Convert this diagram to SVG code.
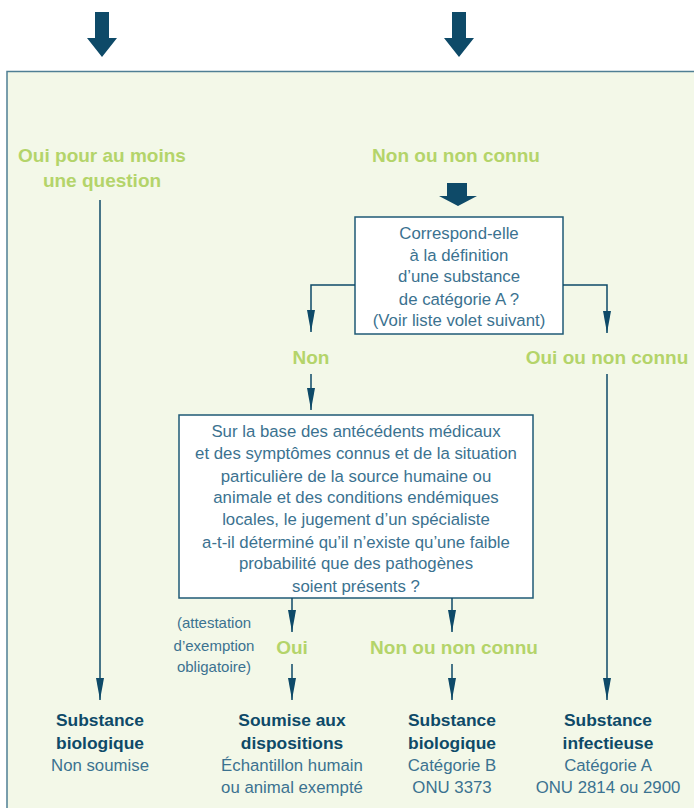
<svg xmlns="http://www.w3.org/2000/svg" width="694" height="808" viewBox="0 0 694 808">
<defs>
<style>
.q{font-family:"Liberation Sans",Arial,sans-serif;font-size:16.8px;fill:#3b7290;text-anchor:middle}
.g{font-family:"Liberation Sans",Arial,sans-serif;font-size:19px;font-weight:bold;fill:#b4d46a;text-anchor:middle}
.b{font-family:"Liberation Sans",Arial,sans-serif;font-size:17.4px;font-weight:bold;fill:#0e4a68;text-anchor:middle}
.n{font-family:"Liberation Sans",Arial,sans-serif;font-size:16.8px;fill:#3b7290;text-anchor:middle}
.s{font-family:"Liberation Sans",Arial,sans-serif;font-size:15px;fill:#3b7290;text-anchor:middle}
.box{fill:#ffffff;stroke:#1f5a76;stroke-width:1.5}
.ln{fill:none;stroke:#0e4a68;stroke-width:1.5}
.big{fill:#0e4a68}
</style>
<marker id="ah" viewBox="0 0 22 8" refX="22" refY="4" markerWidth="22" markerHeight="8" markerUnits="userSpaceOnUse" orient="auto">
<path d="M0,0 L22,4 L0,8 Z" fill="#0e4a68"/>
</marker>
</defs>
<rect x="0" y="0" width="694" height="808" fill="#ffffff"/>
<g id="panel">
<rect x="7" y="71.5" width="700" height="760" fill="#f3f8e8" stroke="#4f7f94" stroke-width="1.5"/>
</g>
<g id="arrow-left-in"><path class="big" d="M95,12 H109 V38 H117 L102,57 L87,38 H95 Z"/></g>
<g id="arrow-right-in"><path class="big" d="M452,12 H466 V38 H474 L459,57 L444,38 H452 Z"/></g>
<g id="label-oui-moins">
<text class="g" x="102" y="162">Oui pour au moins</text>
<text class="g" x="102" y="187">une question</text>
</g>
<g id="label-non-connu-top"><text class="g" x="456" y="162">Non ou non connu</text></g>
<g id="arrow-small"><path class="big" d="M447,183 H467 V196 H477 L458,206 L439,196 H447 Z"/></g>
<g id="box-catA">
<rect class="box" x="355" y="217" width="208" height="117"/>
<text class="q" x="459" y="239">Correspond-elle</text>
<text class="q" x="459" y="261">à la définition</text>
<text class="q" x="459" y="282">d’une substance</text>
<text class="q" x="459" y="305">de catégorie A ?</text>
<text class="q" x="459" y="326">(Voir liste volet suivant)</text>
</g>
<g id="label-non"><text class="g" x="311" y="364">Non</text></g>
<g id="label-oui-non-connu"><text class="g" x="607" y="364">Oui ou non connu</text></g>
<g id="box-spec">
<rect class="box" x="179" y="415" width="354" height="183"/>
<text class="q" x="356" y="437">Sur la base des antécédents médicaux</text>
<text class="q" x="356" y="459">et des symptômes connus et de la situation</text>
<text class="q" x="356" y="482">particulière de la source humaine ou</text>
<text class="q" x="356" y="503">animale et des conditions endémiques</text>
<text class="q" x="356" y="525">locales, le jugement d’un spécialiste</text>
<text class="q" x="356" y="548">a-t-il déterminé qu’il n’existe qu’une faible</text>
<text class="q" x="356" y="569">probabilité que des pathogènes</text>
<text class="q" x="356" y="592">soient présents ?</text>
</g>
<g id="note-attestation">
<text class="s" x="214" y="628">(attestation</text>
<text class="s" x="214" y="651">d’exemption</text>
<text class="s" x="214" y="672">obligatoire)</text>
</g>
<g id="label-oui"><text class="g" x="292" y="654">Oui</text></g>
<g id="label-non-connu-bottom"><text class="g" x="454" y="654">Non ou non connu</text></g>
<g id="connectors">
<path class="ln" d="M100,200 V700" marker-end="url(#ah)"/>
<path class="ln" d="M355,285 H311 V332" marker-end="url(#ah)"/>
<path class="ln" d="M563,285 H607 V333" marker-end="url(#ah)"/>
<path class="ln" d="M311,374 V410" marker-end="url(#ah)"/>
<path class="ln" d="M607,374 V700" marker-end="url(#ah)"/>
<path class="ln" d="M292,598 V632" marker-end="url(#ah)"/>
<path class="ln" d="M452,598 V632" marker-end="url(#ah)"/>
<path class="ln" d="M292,664 V700" marker-end="url(#ah)"/>
<path class="ln" d="M452,664 V700" marker-end="url(#ah)"/>
</g>
<g id="out-non-soumise">
<text class="b" x="100" y="726">Substance</text>
<text class="b" x="100" y="749">biologique</text>
<text class="n" x="100" y="771">Non soumise</text>
</g>
<g id="out-exempte">
<text class="b" x="292" y="726">Soumise aux</text>
<text class="b" x="292" y="749">dispositions</text>
<text class="n" x="292" y="771">Échantillon humain</text>
<text class="n" x="292" y="793">ou animal exempté</text>
</g>
<g id="out-catB">
<text class="b" x="452" y="726">Substance</text>
<text class="b" x="452" y="749">biologique</text>
<text class="n" x="452" y="771">Catégorie B</text>
<text class="n" x="452" y="793">ONU 3373</text>
</g>
<g id="out-catA">
<text class="b" x="608" y="726">Substance</text>
<text class="b" x="608" y="749">infectieuse</text>
<text class="n" x="608" y="771">Catégorie A</text>
<text class="n" x="608" y="793">ONU 2814 ou 2900</text>
</g>
</svg>
